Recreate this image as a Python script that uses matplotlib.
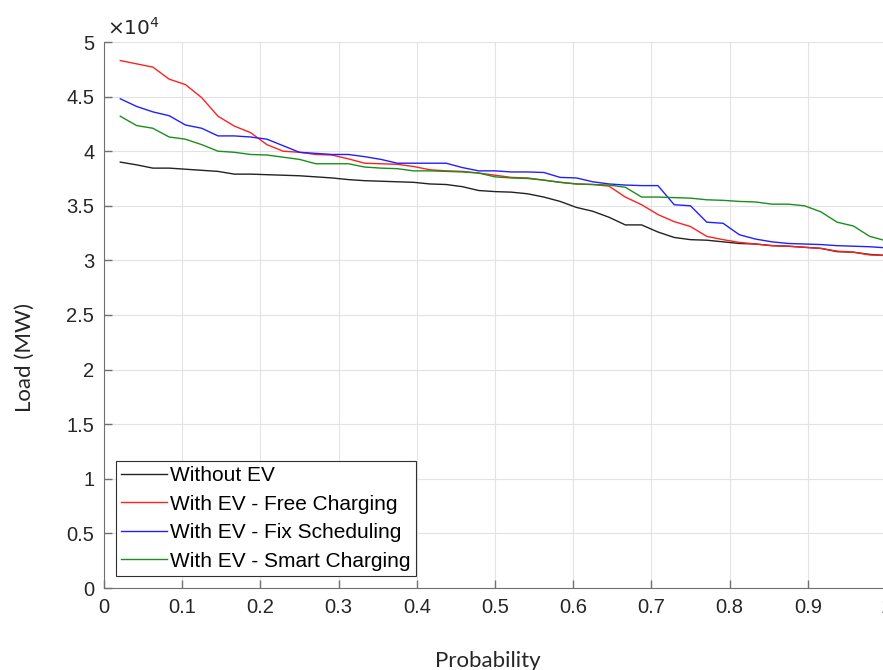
import matplotlib.pyplot as plt
import numpy as np

# 48 half-hour samples, load duration curves (x 1e4 MW)
prob = np.arange(1, 49) / 48.0

without_ev = [3.90, 3.875, 3.845, 3.845, 3.835, 3.825, 3.815, 3.79, 3.79, 3.785,
              3.78, 3.775, 3.765, 3.755, 3.74, 3.73, 3.725, 3.72, 3.715, 3.70,
              3.695, 3.675, 3.64, 3.63, 3.625, 3.61, 3.58, 3.54, 3.485, 3.45,
              3.395, 3.325, 3.325, 3.26, 3.21, 3.19, 3.185, 3.17, 3.155, 3.15,
              3.135, 3.13, 3.12, 3.11, 3.08, 3.075, 3.055, 3.045]
free_charging = [4.83, 4.80, 4.77, 4.66, 4.61, 4.49, 4.32, 4.23, 4.17, 4.06,
                 4.00, 3.99, 3.97, 3.965, 3.93, 3.89, 3.885, 3.88, 3.86, 3.83,
                 3.82, 3.815, 3.80, 3.78, 3.76, 3.755, 3.735, 3.715, 3.70, 3.695,
                 3.68, 3.58, 3.51, 3.42, 3.355, 3.31, 3.22, 3.19, 3.165, 3.15,
                 3.135, 3.13, 3.12, 3.11, 3.085, 3.075, 3.05, 3.045]
fix_scheduling = [4.48, 4.41, 4.36, 4.325, 4.24, 4.21, 4.14, 4.14, 4.13, 4.11,
                  4.05, 3.99, 3.98, 3.97, 3.97, 3.95, 3.925, 3.89, 3.89, 3.89,
                  3.89, 3.85, 3.82, 3.82, 3.81, 3.81, 3.805, 3.76, 3.755, 3.72,
                  3.70, 3.69, 3.685, 3.685, 3.51, 3.50, 3.35, 3.34, 3.235, 3.195,
                  3.17, 3.155, 3.15, 3.145, 3.135, 3.13, 3.125, 3.115]
smart_charging = [4.32, 4.235, 4.21, 4.13, 4.11, 4.06, 4.00, 3.99, 3.97, 3.965,
                  3.945, 3.925, 3.885, 3.885, 3.885, 3.855, 3.845, 3.84, 3.82, 3.82,
                  3.815, 3.81, 3.80, 3.765, 3.755, 3.75, 3.735, 3.715, 3.70, 3.695,
                  3.69, 3.67, 3.58, 3.58, 3.575, 3.57, 3.555, 3.55, 3.54, 3.535,
                  3.515, 3.515, 3.50, 3.445, 3.35, 3.315, 3.22, 3.18]

labels = ['Without EV', 'With EV - Free Charging',
          'With EV - Fix Scheduling', 'With EV - Smart Charging']
colors = ['#222222', '#ff2020', '#2020ff', '#1a8f1a']
xticks = [0, 0.1, 0.2, 0.3, 0.4, 0.5, 0.6, 0.7, 0.8, 0.9, 1]
yticks = [0, 0.5, 1, 1.5, 2, 2.5, 3, 3.5, 4, 4.5, 5]

plt.rcParams['font.family'] = ['Liberation Sans', 'DejaVu Sans']

fig = plt.figure(figsize=(8.83, 6.70), dpi=100)
ax = fig.add_axes([104/883, 82/670, 782/883, 546/670])

series = [without_ev, free_charging, fix_scheduling, smart_charging]
for s, c, lab in zip(series, colors, labels):
    ax.plot(prob, np.array(s) * 1e4, color=c, lw=1.0, label=lab)

ax.set_xlim(0, 1)
ax.set_ylim(0, 5e4)
ax.set_xticks(xticks)
ax.set_xticklabels(['%g' % v for v in xticks])
ax.set_yticks([v * 1e4 for v in yticks])
ax.set_yticklabels(['%g' % v for v in yticks])
ax.text(0.004, 1.006, r'$\times 10^{4}$', transform=ax.transAxes, ha='left',
        va='bottom', fontsize=14.5, color='#262626')

ax.grid(True, color='#e3e3e3', lw=0.8)
ax.set_axisbelow(True)
for side in ['top', 'right']:
    ax.spines[side].set_visible(False)
for side in ['left', 'bottom']:
    ax.spines[side].set_color('#707070')
ax.tick_params(direction='in', length=6, width=1, colors='#707070',
               labelcolor='#262626', labelsize=14.5, pad=7)

leg = ax.legend(loc='lower left', bbox_to_anchor=(0.0153, 0.0225), borderaxespad=0,
                fontsize=15, fancybox=False, framealpha=1, edgecolor='#303030',
                handlelength=2.2, handletextpad=0.15, labelspacing=0.45,
                borderpad=0.25)
leg.get_frame().set_linewidth(0.8)

fig.text(488/883, 3/670, 'Probability', ha='center', va='baseline',
         fontsize=16, family='Lato', color='#262626')
fig.text(25/883, 312/670, 'Load (MW)', ha='center', va='center', rotation=90,
         fontsize=16, family='Lato', color='#262626')

plt.savefig('out.png', dpi=100)
